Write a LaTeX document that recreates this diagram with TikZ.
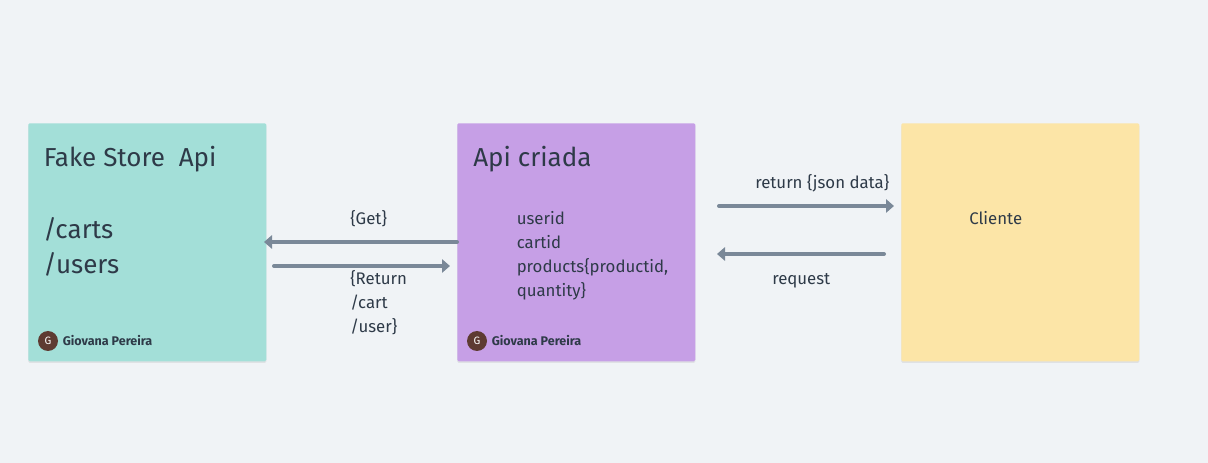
\documentclass[tikz,border=0pt]{standalone}
\usepackage{fontspec}
\setmainfont{Fira Sans}
\usetikzlibrary{arrows.meta,shadows}
\definecolor{boardbg}{HTML}{F0F3F6}
\definecolor{notegreen}{HTML}{A3DFD8}
\definecolor{notepurple}{HTML}{C69FE6}
\definecolor{noteyellow}{HTML}{FCE5A7}
\definecolor{linegray}{HTML}{7A8898}
\definecolor{inkdark}{HTML}{2E3A48}
\definecolor{badgebrown}{HTML}{5E3B32}
\tikzset{
  note/.style={minimum width=178.5pt,minimum height=178.5pt,anchor=north west,inner sep=0pt,
    rounded corners=1pt,drop shadow={shadow xshift=0pt,shadow yshift=-1.2pt,opacity=0.07,fill=black}},
  bigtext/.style={anchor=west,inner sep=0pt,text=inkdark,font=\fontsize{19.5}{26}\selectfont,align=left},
  smalltext/.style={anchor=base west,inner sep=0pt,text=inkdark,font=\fontsize{12.6}{18}\selectfont,align=left},
  badge/.style={circle,fill=badgebrown,text=white,minimum size=15pt,inner sep=0pt,font=\fontsize{8}{9}\selectfont},
  author/.style={anchor=west,inner sep=0pt,text=inkdark,font=\fontsize{9.4}{10}\selectfont\bfseries},
  flow/.style={draw=linegray,line width=3pt,line cap=round,-{Triangle[length=6pt,width=10pt]}},
}
\begin{document}
\begin{tikzpicture}[x=0.75pt,y=-0.75pt]
  \useasboundingbox[fill=boardbg] (0,0) rectangle (1208,463);
  % notes
  \node[note,fill=notegreen]  (fakestore) at (28,123) {};
  \node[note,fill=notepurple] (apicriada) at (457,123) {};
  \node[note,fill=noteyellow] (cliente)   at (901,123) {};
  % note texts
  \node[bigtext] (fakestoretitle) at (43.5,159) {Fake Store\ \ Api};
  \node[bigtext] (carts) at (43,229) {/carts};
  \node[bigtext] (users) at (43,264) {/users};
  \node[bigtext] (apititle) at (473,159) {Api criada};
  \node[smalltext] (fields) at (516.5,297) {userid\\cartid\\products\{productid,\\quantity\}};
  \node[smalltext] (clientetext) at (969,225) {Cliente};
  % authors
  \node[badge] (badgea) at (48,341) {G};
  \node[author] (authora) at (62.5,341) {Giovana Pereira};
  \node[badge] (badgeb) at (477,341) {G};
  \node[author] (authorb) at (491.5,341) {Giovana Pereira};
  % free ends of the arrows
  \coordinate (getstart) at (457,242);
  \coordinate (getend) at (264,242);
  \coordinate (retstart) at (274,266);
  \coordinate (retend) at (450,266);
  \coordinate (jsonstart) at (719,206);
  \coordinate (jsonend) at (894,206);
  \coordinate (reqstart) at (884,254);
  \coordinate (reqend) at (717,254);
  \draw[flow] (getstart) -- (getend);
  \draw[flow] (retstart) -- (retend);
  \draw[flow] (jsonstart) -- (jsonend);
  \draw[flow] (reqstart) -- (reqend);
  % arrow labels
  \node[smalltext] (getlabel) at (350,225) {\{Get\}};
  \node[smalltext] (retlabel) at (350,333) {\{Return\\/cart\\/user\}};
  \node[smalltext] (jsonlabel) at (755,189) {return \{json data\}};
  \node[smalltext] (reqlabel) at (772,285) {request};
\end{tikzpicture}
\end{document}
